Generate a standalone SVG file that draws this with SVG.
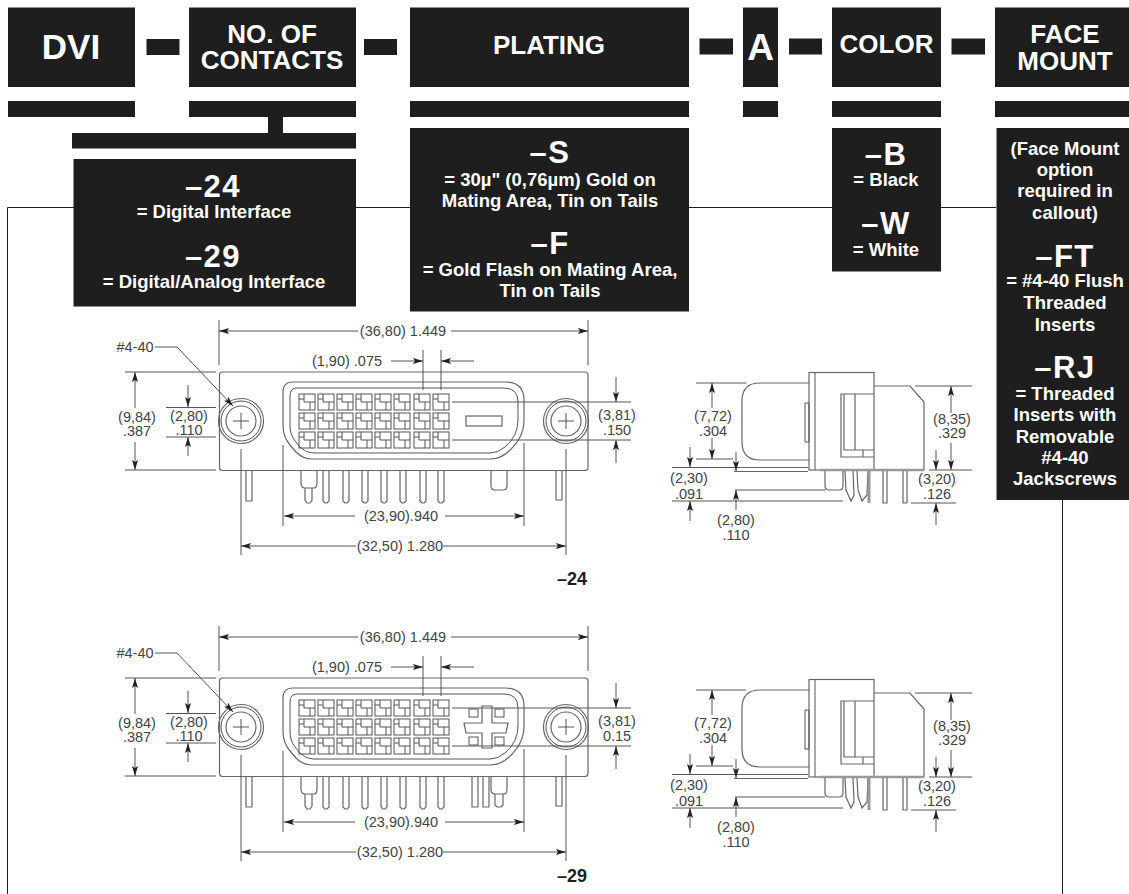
<svg xmlns="http://www.w3.org/2000/svg" width="1129" height="894" viewBox="0 0 1129 894">
<style>
text{font-family:"Liberation Sans",Arial,sans-serif}
.b{fill:#1e1e1e}
.h{fill:#fff;font-weight:700;font-size:26px;text-anchor:middle}
.big{fill:#fff;font-weight:700;font-size:31px;text-anchor:middle;letter-spacing:1.500px}
.sm{fill:#fff;font-weight:700;font-size:18.500px;text-anchor:middle}
.d{fill:#444;font-size:14.500px;text-anchor:middle}
.c{fill:#1e1e1e;font-weight:700;font-size:18px;text-anchor:middle}
.l{fill:none;stroke:#555;stroke-width:1}
.g{fill:none;stroke:#666;stroke-width:1.200}
.w{fill:none;stroke:#1e1e1e;stroke-width:1}
</style>
<defs>
<marker id="a" viewBox="0 0 10 6" refX="10" refY="3" markerWidth="11" markerHeight="6" markerUnits="userSpaceOnUse" orient="auto"><path d="M0 0L10 3L0 6L2 3Z" fill="#222"/></marker>
<g id="cell"><rect x="0" y="0" width="16" height="16" class="l"/><path class="l" d="M5 0V8H11V16M0 5H5M11 8H16"/></g>
<g id="hole"><circle r="22.5" class="g"/><circle r="20" class="l"/><circle r="15" class="g"/><path class="l" d="M-8 0H8M0-8V8"/></g>
<g id="cells">
<use href="#cell" x="299" y="394"/><use href="#cell" x="318" y="394"/><use href="#cell" x="337" y="394"/><use href="#cell" x="356" y="394"/><use href="#cell" x="375" y="394"/><use href="#cell" x="394" y="394"/><use href="#cell" x="414" y="394"/><use href="#cell" x="433" y="394"/>
<use href="#cell" x="299" y="413"/><use href="#cell" x="318" y="413"/><use href="#cell" x="337" y="413"/><use href="#cell" x="356" y="413"/><use href="#cell" x="375" y="413"/><use href="#cell" x="394" y="413"/><use href="#cell" x="414" y="413"/><use href="#cell" x="433" y="413"/>
<use href="#cell" x="299" y="432"/><use href="#cell" x="318" y="432"/><use href="#cell" x="337" y="432"/><use href="#cell" x="356" y="432"/><use href="#cell" x="375" y="432"/><use href="#cell" x="394" y="432"/><use href="#cell" x="414" y="432"/><use href="#cell" x="433" y="432"/>
</g>
<g id="front">
<rect x="219.500" y="372" width="368.500" height="98.500" rx="3" class="g"/>
<path class="g" d="M283 392Q283 382 293 382H505Q524 382 524 400V420Q524 438 508 452Q500 459 490 459H312Q303 459 296 452L290 445Q283 437 283 425Z"/>
<path class="l" d="M290 396Q290 388 297 388H504Q518 388 518 402V420Q518 436 505 447Q498 453 490 453H313Q306 453 300 447L295 441Q290 435 290 425Z"/>
<use href="#cells"/>
<use href="#hole" x="241" y="421"/><use href="#hole" x="566" y="421"/>
<path class="l" d="M219 320V365M588 320V365M423 350V390M441 350V390M125 372H216M125 470H216M166 407.500H216M166 437H216M452 402H631M452 440H631M283 445V526M524 443V526M241 449V555M566 449V555"/>
<path class="l" marker-end="url(#a)" d="M358 331H219"/><path class="l" marker-end="url(#a)" d="M451 331H588"/>
<path class="l" marker-end="url(#a)" d="M391 361H423"/><path class="l" marker-end="url(#a)" d="M474 361H441"/>
<path class="l" marker-end="url(#a)" d="M155 347H177L233 406"/>
<path class="l" marker-end="url(#a)" d="M135 408V372"/><path class="l" marker-end="url(#a)" d="M135 442V470"/>
<path class="l" marker-end="url(#a)" d="M188 385V407"/><path class="l" marker-end="url(#a)" d="M188 456V437"/>
<path class="l" marker-end="url(#a)" d="M616 377V402"/><path class="l" marker-end="url(#a)" d="M616 463V440"/>
<path class="l" marker-end="url(#a)" d="M355 516H284"/><path class="l" marker-end="url(#a)" d="M445 516H524"/>
<path class="l" marker-end="url(#a)" d="M356 546H241"/><path class="l" marker-end="url(#a)" d="M443 546H566"/>
<path class="g" d="M246 470V501H252V470M323 470V501L325 503H327L329 501V470M343 470V501L345 503H347L349 501V470M362 470V501L364 503H366L368 501V470M381 470V501L383 503H385L387 501V470M400 470V501L402 503H404L406 501V470M420 470V501L422 503H424L426 501V470M438 470V501L440 503H442L444 501V470M556 470V500H562V470"/>
<path class="g" d="M301 470V483Q301 488 305 488H314Q317 488 317 483V470M305 488V500L307 503H310L312 500V488"/>
</g>
<g id="side">
<rect x="809" y="372.500" width="65" height="97.500" class="g"/>
<path class="l" d="M815 372.500V470M805 403H809V442H805Z"/>
<path class="g" d="M809 383H760Q742 383 742 401V442Q742 460 760 460H809M734 467.500H808M734 471.500H808"/>
<path class="g" d="M874 394H841V457H874M844 394V450H874M855 394V450M863 450V457"/>
<path class="g" d="M874 386H910L924 402V470H874"/>
<path d="M820 470H924" stroke="#999" stroke-width="2.500" fill="none"/>
<path class="g" d="M825 471V486Q825 490 829 490H839Q843 490 843 486V471M845 471L846 490L851 501L854 495L853 471M857 471L858 490L862 501L867 495L868 471M883 471V503H887V471M903 471V503H907V471"/>
<path d="M869 471V503" stroke="#999" stroke-width="3" fill="none"/>
<path class="l" d="M696 383H746M696 459H733M672 467.500H734M672 501H843M735 490H825M915 386H972M929 470H972M911 503H956"/>
<path class="l" marker-end="url(#a)" d="M712 408V383"/><path class="l" marker-end="url(#a)" d="M712 438V459"/>
<path class="l" marker-end="url(#a)" d="M690 447V467"/><path class="l" marker-end="url(#a)" d="M690 521V501"/>
<path class="l" marker-end="url(#a)" d="M736 452V471"/><path class="l" marker-end="url(#a)" d="M736 510V490"/>
<path class="l" marker-end="url(#a)" d="M951 413V386"/><path class="l" marker-end="url(#a)" d="M951 443V470"/>
<path class="l" marker-end="url(#a)" d="M936 450V470"/><path class="l" marker-end="url(#a)" d="M936 525V503"/>
</g>
</defs>
<g id="connectors">
<path class="w" d="M7.500 894V207.500H996M1062.500 500V894"/>
<path class="b" d="M268 117H283V133H268Z"/>
<rect class="b" x="72" y="133" width="284" height="15.500"/>
</g>
<g id="node-dvi"><rect class="b" x="8" y="7.500" width="127" height="79.500"/><text class="h" x="71" y="59" style="font-size:35px">DVI</text></g>
<rect class="b" x="146.500" y="39" width="33" height="16"/>
<g id="node-contacts"><rect class="b" x="189" y="7.500" width="167" height="79.500"/><text class="h" x="272" y="43">NO. OF</text><text class="h" x="272" y="69">CONTACTS</text></g>
<rect class="b" x="364" y="39" width="33" height="16"/>
<g id="node-plating"><rect class="b" x="410" y="7.500" width="279" height="79.500"/><text class="h" x="549" y="54">PLATING</text></g>
<rect class="b" x="699.500" y="38.500" width="33.500" height="16"/>
<g id="node-a"><rect class="b" x="743" y="7.500" width="35" height="79.500"/><text class="h" x="760.500" y="60" style="font-size:37px">A</text></g>
<rect class="b" x="789" y="38.500" width="33" height="16"/>
<g id="node-color"><rect class="b" x="832" y="7.500" width="109" height="79.500"/><text class="h" x="886.500" y="53">COLOR</text></g>
<rect class="b" x="951.500" y="38.500" width="33.500" height="16"/>
<g id="node-face"><rect class="b" x="995" y="7.500" width="134" height="79.500"/><text class="h" x="1065" y="43">FACE</text><text class="h" x="1065" y="70">MOUNT</text></g>
<g id="bars">
<rect class="b" x="8" y="101" width="127" height="16"/><rect class="b" x="189" y="101" width="167" height="16"/><rect class="b" x="410" y="101" width="279" height="16"/><rect class="b" x="743" y="101" width="35" height="16"/><rect class="b" x="832" y="101" width="109" height="16"/><rect class="b" x="995" y="101" width="134" height="16"/>
</g>
<g id="opt-contacts"><rect class="b" x="73.500" y="159" width="282.500" height="147.500"/>
<text class="big" x="213" y="197">–24</text><text class="sm" x="214" y="218">= Digital Interface</text>
<text class="big" x="213" y="267">–29</text><text class="sm" x="214" y="288">= Digital/Analog Interface</text></g>
<g id="opt-plating"><rect class="b" x="410" y="128" width="279" height="183.500"/>
<text class="big" x="550" y="163">–S</text><text class="sm" x="550" y="186">= 30µ" (0,76µm) Gold on</text><text class="sm" x="550" y="207">Mating Area, Tin on Tails</text>
<text class="big" x="550" y="254">–F</text><text class="sm" x="550" y="276">= Gold Flash on Mating Area,</text><text class="sm" x="550" y="297">Tin on Tails</text></g>
<g id="opt-color"><rect class="b" x="832" y="128" width="109" height="143.500"/>
<text class="big" x="886" y="165">–B</text><text class="sm" x="886" y="186">= Black</text>
<text class="big" x="886" y="234">–W</text><text class="sm" x="886" y="256">= White</text></g>
<g id="opt-face"><rect class="b" x="996.500" y="128" width="132.500" height="372"/>
<text class="sm" x="1065" y="155">(Face Mount</text><text class="sm" x="1065" y="176">option</text><text class="sm" x="1065" y="197">required in</text><text class="sm" x="1065" y="219">callout)</text>
<text class="big" x="1065" y="267">–FT</text><text class="sm" x="1065" y="287">= #4-40 Flush</text><text class="sm" x="1065" y="309">Threaded</text><text class="sm" x="1065" y="331">Inserts</text>
<text class="big" x="1065" y="378">–RJ</text><text class="sm" x="1065" y="400">= Threaded</text><text class="sm" x="1065" y="421">Inserts with</text><text class="sm" x="1065" y="443">Removable</text><text class="sm" x="1065" y="464">#4-40</text><text class="sm" x="1065" y="485">Jackscrews</text></g>
<g id="front-24">
<use href="#front"/>
<path class="g" d="M491 470V486Q491 490 495 490H503Q507 490 507 486V470"/>
<rect class="g" x="466" y="416" width="36" height="10"/>
<text class="d" x="403" y="336">(36,80) 1.449</text><text class="d" x="347" y="366">(1,90) .075</text><text class="d" x="135" y="352">#4-40</text>
<text class="d" x="137" y="422">(9,84)</text><text class="d" x="137" y="436">.387</text><text class="d" x="189" y="421">(2,80)</text><text class="d" x="189" y="435">.110</text><text class="d" x="617" y="420">(3,81)</text><text class="d" x="617" y="435">.150</text>
<text class="d" x="401" y="521">(23,90).940</text><text class="d" x="400" y="551">(32,50) 1.280</text><text class="c" x="572" y="585">–24</text>
</g>
<g id="side-24"><use href="#side"/>
<text class="d" x="713" y="421">(7,72)</text><text class="d" x="713" y="436">.304</text><text class="d" x="689" y="483">(2,30)</text><text class="d" x="689" y="499">.091</text><text class="d" x="736" y="525">(2,80)</text><text class="d" x="736" y="540">.110</text><text class="d" x="952" y="424">(8,35)</text><text class="d" x="952" y="438">.329</text><text class="d" x="937" y="484">(3,20)</text><text class="d" x="937" y="499">.126</text>
</g>
<g id="front-29">
<use href="#front" y="306"/>
<path class="g" d="M472 776V807H478V776M483 776V807H489V776M491 776V789Q491 794 495 794H504Q507 794 507 789V776M495 794V805L497 807H501L503 805V794"/>
<path class="g" d="M482 706H492V723H508L506 733H492V748H482V733H466L464 723H482Z"/>
<rect class="l" x="469" y="709" width="9" height="8"/><rect class="l" x="495" y="709" width="9" height="8"/><rect class="l" x="469" y="737" width="9" height="8"/><rect class="l" x="495" y="737" width="9" height="8"/>
<text class="d" x="403" y="642">(36,80) 1.449</text><text class="d" x="347" y="672">(1,90) .075</text><text class="d" x="135" y="658">#4-40</text>
<text class="d" x="137" y="728">(9,84)</text><text class="d" x="137" y="742">.387</text><text class="d" x="189" y="727">(2,80)</text><text class="d" x="189" y="741">.110</text><text class="d" x="617" y="726">(3,81)</text><text class="d" x="617" y="741">0.15</text>
<text class="d" x="401" y="827">(23,90).940</text><text class="d" x="400" y="857">(32,50) 1.280</text><text class="c" x="572" y="882">–29</text>
</g>
<g id="side-29"><use href="#side" y="307"/>
<text class="d" x="713" y="728">(7,72)</text><text class="d" x="713" y="743">.304</text><text class="d" x="689" y="790">(2,30)</text><text class="d" x="689" y="806">.091</text><text class="d" x="736" y="832">(2,80)</text><text class="d" x="736" y="847">.110</text><text class="d" x="952" y="731">(8,35)</text><text class="d" x="952" y="745">.329</text><text class="d" x="937" y="791">(3,20)</text><text class="d" x="937" y="806">.126</text>
</g>
</svg>
